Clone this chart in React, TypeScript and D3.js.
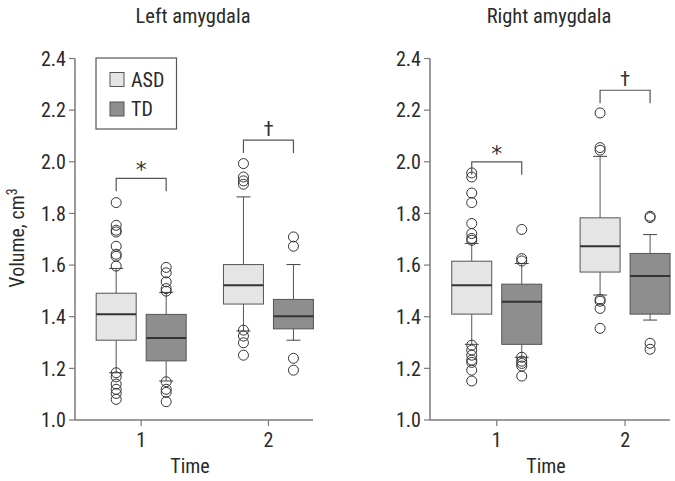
import React from "react";
import * as d3 from "d3";

const groups = ["ASD", "TD"];
const times = [1, 2];
const yTicks = [1.0, 1.2, 1.4, 1.6, 1.8, 2.0, 2.2, 2.4];
const panelTitles = ["Left amygdala", "Right amygdala"];

// [q1, median, q3, whiskerLow, whiskerHigh]
const leftASD = [
  [1.309, 1.41, 1.491, 1.183, 1.587],
  [1.449, 1.522, 1.602, 1.345, 1.864],
];
const leftTD = [
  [1.229, 1.318, 1.409, 1.151, 1.494],
  [1.353, 1.402, 1.467, 1.309, 1.602],
];
const rightASD = [
  [1.41, 1.522, 1.615, 1.293, 1.684],
  [1.573, 1.673, 1.783, 1.484, 2.021],
];
const rightTD = [
  [1.293, 1.458, 1.526, 1.243, 1.606],
  [1.41, 1.558, 1.645, 1.387, 1.718],
];

const leftASDOut = [
  [1.842, 1.754, 1.735, 1.728, 1.673, 1.642, 1.634, 1.596, 1.183, 1.167, 1.139, 1.119, 1.103, 1.08],
  [1.993, 1.941, 1.926, 1.913, 1.348, 1.325, 1.299, 1.251],
];
const leftTDOut = [
  [1.591, 1.57, 1.535, 1.509, 1.499, 1.148, 1.119, 1.107, 1.071],
  [1.709, 1.673, 1.239, 1.193],
];
const rightASDOut = [
  [1.957, 1.941, 1.879, 1.842, 1.761, 1.722, 1.703, 1.696, 1.29, 1.271, 1.251, 1.232, 1.223, 1.193, 1.151],
  [2.189, 2.055, 2.045, 1.467, 1.46, 1.432, 1.355],
];
const rightTDOut = [
  [1.738, 1.625, 1.616, 1.243, 1.228, 1.219, 1.209, 1.17],
  [1.789, 1.784, 1.297, 1.274],
];

// significance brackets: [time, top value, symbol]
const leftSig = [
  [1, 1.936, "*"],
  [2, 2.084, "†"],
];
const rightSig = [
  [1, 2.0, "*"],
  [2, 2.277, "†"],
];

const FONT = "'Liberation Sans Narrow', 'Roboto Condensed', Roboto, 'Liberation Sans', sans-serif";
const FS = 20;
const fills = { ASD: "#e5e5e5", TD: "#8e8e8e" };
const AXIS = "#7a7a7a";
const TEXT = "#2a2a2a";

type PanelProps = {
  title: string;
  x0: number;
  x1: number;
  boxes: { ASD: number[][]; TD: number[][] };
  outs: { ASD: number[][]; TD: number[][] };
  sig: (string | number)[][];
  showLegend: boolean;
  showYLabel: boolean;
};

const y = d3.scaleLinear().domain([1.0, 2.4]).range([420, 58.5]);

function Panel({ title, x0, x1, boxes, outs, sig, showLegend, showYLabel }: PanelProps) {
  const x = d3.scaleLinear().domain([0.48, 2.35]).range([x0, x1]);
  const off = { ASD: -25, TD: 25 };
  const bw = 40;
  const cap = 7;
  return (
    <g>
      <text x={(x0 + x1) / 2 - 1} y={23} textAnchor="middle" fontSize={FS + 0.5} fill={TEXT} fontFamily={FONT}>
        {title}
      </text>
      {/* axes */}
      <line x1={x0} x2={x0} y1={y(2.4)} y2={y(1.0)} stroke={AXIS} strokeWidth={1.5} />
      <line x1={x0} x2={x1} y1={y(1.0)} y2={y(1.0)} stroke={AXIS} strokeWidth={1.5} />
      {yTicks.map((t) => (
        <g key={t}>
          <line x1={x0 - 6} x2={x0} y1={y(t)} y2={y(t)} stroke={AXIS} strokeWidth={1.2} />
          <text x={x0 - 9} y={y(t)} dy="0.36em" textAnchor="end" fontSize={FS} fill={TEXT} fontFamily={FONT}>
            {t.toFixed(1)}
          </text>
        </g>
      ))}
      {times.map((t) => (
        <g key={t}>
          <line x1={x(t)} x2={x(t)} y1={y(1.0)} y2={y(1.0) + 6} stroke={AXIS} strokeWidth={1.2} />
          <text x={x(t)} y={y(1.0) + 27} textAnchor="middle" fontSize={FS} fill={TEXT} fontFamily={FONT}>
            {t}
          </text>
        </g>
      ))}
      <text x={(x0 + x1) / 2 - 4} y={473} textAnchor="middle" fontSize={FS} fill={TEXT} fontFamily={FONT}>
        Time
      </text>
      {showYLabel && (
        <text
          transform={`translate(24, 238) rotate(-90)`}
          textAnchor="middle"
          fontSize={FS}
          fill={TEXT}
          fontFamily={FONT}
        >
          Volume, cm<tspan dy="-7" fontSize={14}>3</tspan>
        </text>
      )}
      {/* boxes */}
      {groups.map((g) =>
        times.map((t, i) => {
          const [q1, med, q3, lo, hi] = (boxes as any)[g][i];
          const cx = x(t) + (off as any)[g];
          return (
            <g key={g + t}>
              <line x1={cx} x2={cx} y1={y(q3)} y2={y(hi)} stroke="#555" strokeWidth={1} />
              <line x1={cx} x2={cx} y1={y(q1)} y2={y(lo)} stroke="#555" strokeWidth={1} />
              <line x1={cx - cap} x2={cx + cap} y1={y(hi)} y2={y(hi)} stroke="#444" strokeWidth={1} />
              <line x1={cx - cap} x2={cx + cap} y1={y(lo)} y2={y(lo)} stroke="#444" strokeWidth={1} />
              <rect
                x={cx - bw / 2}
                y={y(q3)}
                width={bw}
                height={y(q1) - y(q3)}
                fill={(fills as any)[g]}
                stroke="#555"
                strokeWidth={1}
              />
              <line x1={cx - bw / 2} x2={cx + bw / 2} y1={y(med)} y2={y(med)} stroke="#333" strokeWidth={2} />
              {(outs as any)[g][i].map((v: number, k: number) => (
                <circle key={k} cx={cx} cy={y(v)} r={5} fill="none" stroke="#333" strokeWidth={1} />
              ))}
            </g>
          );
        })
      )}
      {/* significance */}
      {sig.map(([t, v, s]) => {
        const xa = x(t as number) + off.ASD;
        const xb = x(t as number) + off.TD;
        const yt = y(v as number);
        return (
          <g key={String(t)}>
            <path d={`M${xa},${yt + 13}V${yt}H${xb}V${yt + 13}`} fill="none" stroke="#555" strokeWidth={1.2} />
            <text
              x={(xa + xb) / 2}
              y={s === "*" ? yt - 1 : yt - 4}
              textAnchor="middle"
              fontSize={s === "*" ? 22 : 21}
              fill="#333"
              style={{ fill: "#333" }}
              fontFamily={s === "*" ? "'DejaVu Sans', sans-serif" : FONT}
            >
              {s}
            </text>
          </g>
        );
      })}
      {showLegend && (
        <g>
          <rect x={96} y={58} width={80.5} height={71} fill="#fff" stroke="#555" strokeWidth={1.2} />
          {groups.map((g, i) => (
            <g key={g}>
              <rect x={110} y={72.5 + i * 29.5} width={14} height={14} fill={(fills as any)[g]} stroke="#555" strokeWidth={1} />
              <text x={131} y={79.5 + i * 29.5} dy="0.36em" fontSize={FS} fill={TEXT} fontFamily={FONT}>
                {g}
              </text>
            </g>
          ))}
        </g>
      )}
    </g>
  );
}

export default function App() {
  return (
    <svg width={675} height={481} style={{ display: "block", position: "absolute", left: 0, top: 0, background: "#fff" }}>
      <Panel
        title={panelTitles[0]}
        x0={75}
        x1={313}
        boxes={{ ASD: leftASD, TD: leftTD }}
        outs={{ ASD: leftASDOut, TD: leftTDOut }}
        sig={leftSig}
        showLegend={true}
        showYLabel={true}
      />
      <Panel
        title={panelTitles[1]}
        x0={430}
        x1={670}
        boxes={{ ASD: rightASD, TD: rightTD }}
        outs={{ ASD: rightASDOut, TD: rightTDOut }}
        sig={rightSig}
        showLegend={false}
        showYLabel={false}
      />
    </svg>
  );
}
